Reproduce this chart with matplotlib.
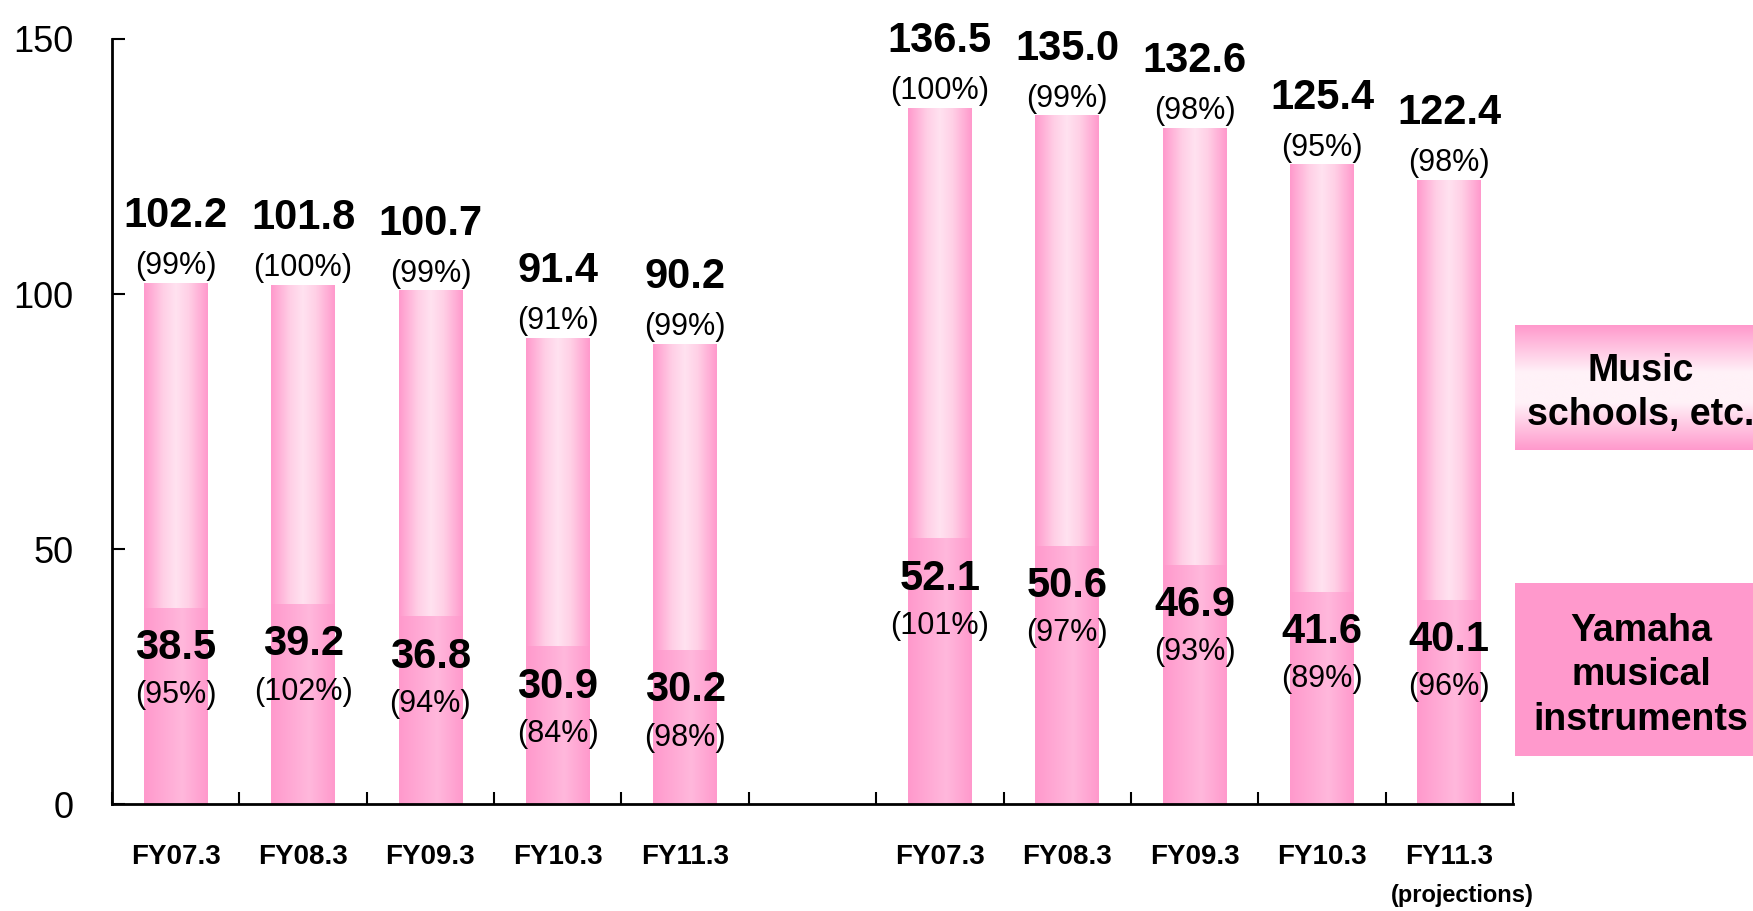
import numpy as np
import matplotlib
matplotlib.use('Agg')
import matplotlib.pyplot as plt
from matplotlib.colors import LinearSegmentedColormap
from matplotlib.transforms import blended_transform_factory

years = ['FY07.3', 'FY08.3', 'FY09.3', 'FY10.3', 'FY11.3']

# left group
left_total = [102.2, 101.8, 100.7, 91.4, 90.2]
left_total_pct = ['(99%)', '(100%)', '(99%)', '(91%)', '(99%)']
left_instr = [38.5, 39.2, 36.8, 30.9, 30.2]
left_instr_pct = ['(95%)', '(102%)', '(94%)', '(84%)', '(98%)']

# right group
right_total = [136.5, 135.0, 132.6, 125.4, 122.4]
right_total_pct = ['(100%)', '(99%)', '(98%)', '(95%)', '(98%)']
right_instr = [52.1, 50.6, 46.9, 41.6, 40.1]
right_instr_pct = ['(101%)', '(97%)', '(93%)', '(89%)', '(96%)']

plt.rcParams['font.family'] = ['Liberation Sans', 'DejaVu Sans']

bottom_cmap = LinearSegmentedColormap.from_list(
    'bot', [(0, '#ff99cc'), (0.6, '#ffb8dc'), (1, '#ff99cc')])
top_cmap = LinearSegmentedColormap.from_list(
    'top', [(0, '#ff99cc'), (0.3, '#ffcfe6'), (0.5, '#ffe2f0'),
            (0.7, '#ffd0e6'), (1, '#ff99cc')])
hgrad = np.linspace(0, 1, 256).reshape(1, -1)

fig = plt.figure(figsize=(17.53, 9.11), dpi=100)
ax = fig.add_axes([0.0639, 0.1174, 0.7992, 0.8398])

pos = [i + 0.5 for i in range(5)] + [i + 6.5 for i in range(5)]
total = left_total + right_total
instr = left_instr + right_instr
schools = [t - b for t, b in zip(total, instr)]
total_pct = left_total_pct + right_total_pct
instr_pct = left_instr_pct + right_instr_pct

bars_b = ax.bar(pos, instr, width=0.5, color='none', linewidth=0)
bars_t = ax.bar(pos, schools, width=0.5, bottom=instr, color='none', linewidth=0)

for bars, cmap in ((bars_b, bottom_cmap), (bars_t, top_cmap)):
    for p in bars:
        x, y = p.get_x(), p.get_y()
        w, h = p.get_width(), p.get_height()
        im = ax.imshow(hgrad, extent=[x, x + w, y, y + h], aspect='auto',
                       cmap=cmap, interpolation='bicubic', zorder=2)
        im.set_clip_path(p)

for x, t, tp, b, bp in zip(pos, total, total_pct, instr, instr_pct):
    ax.annotate(tp, (x, t), xytext=(0, 12), textcoords='offset points',
                ha='center', va='center', fontsize=22, zorder=5)
    ax.annotate(f'{t:.1f}', (x, t), xytext=(0, 48), textcoords='offset points',
                ha='center', va='center', fontsize=30, fontweight='bold', zorder=5)
    ax.annotate(f'{b:.1f}', (x, b), xytext=(0, -29), textcoords='offset points',
                ha='center', va='center', fontsize=30, fontweight='bold', zorder=5)
    ax.annotate(bp, (x, b), xytext=(0, -63), textcoords='offset points',
                ha='center', va='center', fontsize=22, zorder=5)

ax.set_xlim(0, 11)
ax.set_ylim(0, 150)
ax.set_yticks([0, 50, 100, 150])
ax.set_xticks(range(12))
ax.set_xticklabels([])
for s in ('top', 'right'):
    ax.spines[s].set_visible(False)
for s in ('left', 'bottom'):
    ax.spines[s].set_linewidth(2)
    ax.spines[s].set_zorder(6)
ax.tick_params(axis='both', direction='in', length=9, width=1.5)
ax.tick_params(axis='y', labelsize=26, pad=28)

trans = blended_transform_factory(ax.transData, ax.transAxes)
for x, lab in zip(pos, years + years):
    ax.text(x, -0.069, lab, transform=trans, ha='center', va='center',
            fontsize=20, fontweight='bold')
ax.text(pos[-1] + 0.1, -0.119, '(projections)', transform=trans, ha='center',
        va='center', fontsize=17, fontweight='bold')

# legend boxes
vgrad = np.linspace(0, 1, 256).reshape(-1, 1)
leg_cmap = LinearSegmentedColormap.from_list(
    'leg', [(0, '#ff99cc'), (0.38, '#fff2f8'), (0.62, '#fff2f8'), (1, '#ff99cc')])
lax1 = fig.add_axes([0.8642, 0.506, 0.1358, 0.137])
lax1.imshow(vgrad, aspect='auto', cmap=leg_cmap, extent=[0, 1, 0, 1],
            interpolation='bicubic')
lax1.text(0.53, 0.455, 'Music\nschools, etc.', ha='center', va='center',
          fontsize=27, fontweight='bold', linespacing=1.3, clip_on=False)
lax1.axis('off')

lax2 = fig.add_axes([0.8642, 0.170, 0.1358, 0.190])
lax2.set_facecolor('#ff99cc')
lax2.set_xticks([])
lax2.set_yticks([])
for s in lax2.spines.values():
    s.set_visible(False)
lax2.text(0.53, 0.468, 'Yamaha\nmusical\ninstruments', ha='center', va='center',
          fontsize=27, fontweight='bold', linespacing=1.3, transform=lax2.transAxes)

fig.savefig('out.png', dpi=100)
